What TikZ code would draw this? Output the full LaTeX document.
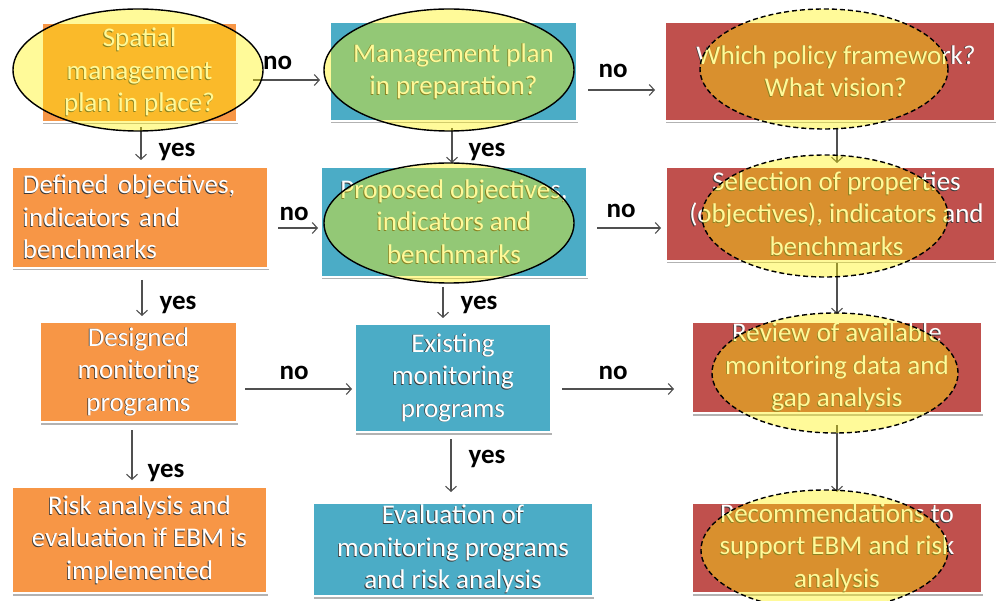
\documentclass[tikz,border=0pt]{standalone}
\usepackage{fontspec}
\setmainfont{Carlito}
\usetikzlibrary{arrows.meta,shapes.geometric,shadows}

\definecolor{boxorange}{HTML}{F79646}
\definecolor{boxblue}{HTML}{4BACC6}
\definecolor{boxred}{HTML}{C0504D}
\definecolor{txtshade}{HTML}{3A3A3A}
\definecolor{linegray}{HTML}{505050}
\definecolor{hilite}{HTML}{FFF200}

% white box text with a thin dark shadow
\newcommand{\etxt}[1]{\leavevmode\rlap{\kern-0.8pt\raisebox{-0.8pt}{\textcolor{txtshade}{#1}}}\textcolor{white}{#1}}
% same, nudged right within a centred line
\newcommand{\rtxt}[1]{\hspace*{12pt}\etxt{#1}}

\tikzset{
  box/.style={draw=white, line width=1.2pt, inner sep=0pt, outer sep=0pt, align=center,
    font=\fontsize{27}{32.5}\selectfont,
    drop shadow={shadow xshift=1.2pt, shadow yshift=-2.5pt, opacity=0.3, fill=black}},
  obox/.style={box, fill=boxorange},
  bbox/.style={box, fill=boxblue},
  rbox/.style={box, fill=boxred},
  ell/.style={ellipse, draw=black, line width=1.4pt, fill=hilite, fill opacity=0.4,
    inner sep=0pt, outer sep=0pt},
  dell/.style={ell, dash pattern=on 5pt off 3pt},
  arr/.style={draw=linegray, line width=1.1pt, -{Straight Barb[length=5pt,width=11pt]}},
  lbl/.style={font=\fontsize{27}{30}\selectfont\bfseries, anchor=base, inner sep=0pt}
}

\begin{document}
\begin{tikzpicture}[x=1pt, y=-1pt]
\useasboundingbox (0,0) rectangle (998,601);
\clip (0,0) rectangle (998,601);

% ---- process boxes ----
\node[obox, minimum width=195pt, minimum height=99pt] (b1) at (139.5,72.5)
  {\etxt{Spatial}\\\etxt{management}\\\etxt{plan in place?}};
\node[bbox, minimum width=247pt, minimum height=99pt] (b2) at (453.5,71.5)
  {\etxt{Management plan}\\\etxt{in preparation?}};
\node[rbox, minimum width=330pt, minimum height=99pt] (b3) at (830,71.5)
  {\rtxt{Which policy framework?}\\\rtxt{What vision?}};

\node[obox, text width=234pt, align=left, inner xsep=11pt, minimum height=101pt] (b4) at (140,217.5)
  {\etxt{Defined objectives,}\\\etxt{indicators and}\\\etxt{benchmarks}};
\node[bbox, minimum width=266pt, minimum height=110pt] (b5) at (454,222)
  {\etxt{Proposed objectives,}\\\etxt{indicators and}\\\etxt{benchmarks}};
\node[rbox, minimum width=329pt, minimum height=94pt] (b6) at (830.5,214)
  {\rtxt{Selection of properties}\\\rtxt{(objectives), indicators and}\\\rtxt{benchmarks}};

\node[obox, minimum width=197pt, minimum height=100pt] (b7) at (138.5,372)
  {\etxt{Designed}\\\etxt{monitoring}\\\etxt{programs}};
\node[bbox, minimum width=196pt, minimum height=108pt] (b8) at (453,378)
  {\etxt{Existing}\\\etxt{monitoring}\\\etxt{programs}};
\node[rbox, minimum width=290pt, minimum height=91pt] (b9) at (837,367.5)
  {\etxt{Review of available}\\\etxt{monitoring data and}\\\etxt{gap analysis}};

\node[obox, minimum width=255pt, minimum height=106pt] (b10) at (139.5,540)
  {\etxt{Risk analysis and}\\\etxt{evaluation if EBM is}\\\etxt{implemented}};
\node[bbox, minimum width=280pt, minimum height=93pt] (b11) at (453,549.5)
  {\etxt{Evaluation of}\\\etxt{monitoring programs}\\\etxt{and risk analysis}};
\node[rbox, minimum width=290pt, minimum height=90pt] (b12) at (837,548)
  {\etxt{Recommendations to}\\\etxt{support EBM and risk}\\\etxt{analysis}};

% ---- connectors ----
\draw[arr] ([xshift=16pt,yshift=-7.5pt]b1.east) -- ([xshift=-10pt,yshift=-8.5pt]b2.west);
\draw[arr] ([xshift=11pt,yshift=-18.5pt]b2.east) -- ([xshift=-10pt,yshift=-18.5pt]b3.west);
\draw[arr] ([xshift=7pt,yshift=-7pt]b3.south) -- ([xshift=6.5pt,yshift=4pt]b6.north);
\draw[arr] ([xshift=1.5pt,yshift=-5pt]b1.south) -- ([xshift=1pt,yshift=7pt]b4.north);
\draw[arr] ([xshift=-1.5pt,yshift=-7pt]b2.south) -- ([xshift=-2pt,yshift=4pt]b5.north);
\draw[arr] ([xshift=10pt,yshift=-10.5pt]b4.east) -- ([xshift=-3pt,yshift=-6pt]b5.west);
\draw[arr] ([xshift=10pt,yshift=-6pt]b5.east) -- ([xshift=-5pt,yshift=-14pt]b6.west);
\draw[arr] ([xshift=6.5pt,yshift=-2pt]b6.south) -- ([yshift=8pt]b9.north);
\draw[arr] ([xshift=2pt,yshift=-12pt]b4.south) -- ([xshift=3.5pt,yshift=6pt]b7.north);
\draw[arr] ([xshift=-11pt,yshift=-10pt]b5.south) -- ([xshift=-10pt,yshift=6pt]b8.north);
\draw[arr] ([xshift=8pt,yshift=-17pt]b7.east) -- ([xshift=-3pt,yshift=-11pt]b8.west);
\draw[arr] ([xshift=11pt,yshift=-11pt]b8.east) -- ([xshift=-18pt,yshift=-21.5pt]b9.west);
\draw[arr] ([xshift=-6.5pt,yshift=-8pt]b7.south) -- ([xshift=-7.5pt,yshift=7pt]b10.north);
\draw[arr] ([xshift=-2pt,yshift=-7pt]b8.south) -- ([xshift=-2pt,yshift=11pt]b11.north);
\draw[arr] ([yshift=-12pt]b9.south) -- ([yshift=11pt]b12.north);

% ---- highlight ellipses ----
\node[ell, minimum width=250pt, minimum height=122pt] (e1) at (138,70) {};
\node[ell, minimum width=250pt, minimum height=122pt] (e2) at (449,70) {};
\node[dell, minimum width=248pt, minimum height=120pt] (e3) at (824,69) {};
\node[ell, minimum width=250pt, minimum height=120pt] (e5) at (449,223) {};
\node[dell, minimum width=246pt, minimum height=122pt] (e6) at (825,216) {};
\node[dell, minimum width=246pt, minimum height=120pt] (e9) at (835,373) {};
\node[dell, minimum width=247pt, minimum height=120pt] (e12) at (824.5,550) {};

% ---- decision labels ----
\node[lbl] (n1) at (277.5,70) {no};
\node[lbl] (n2) at (613,78) {no};
\node[lbl] (y1) at (177,157) {yes};
\node[lbl] (y2) at (487,157) {yes};
\node[lbl] (n3) at (294,221) {no};
\node[lbl] (n4) at (621,218) {no};
\node[lbl] (y3) at (178,310) {yes};
\node[lbl] (y4) at (479,310) {yes};
\node[lbl] (n5) at (294,379) {no};
\node[lbl] (n6) at (613,379) {no};
\node[lbl] (y5) at (166,477) {yes};
\node[lbl] (y6) at (487,463) {yes};
\end{tikzpicture}
\end{document}
